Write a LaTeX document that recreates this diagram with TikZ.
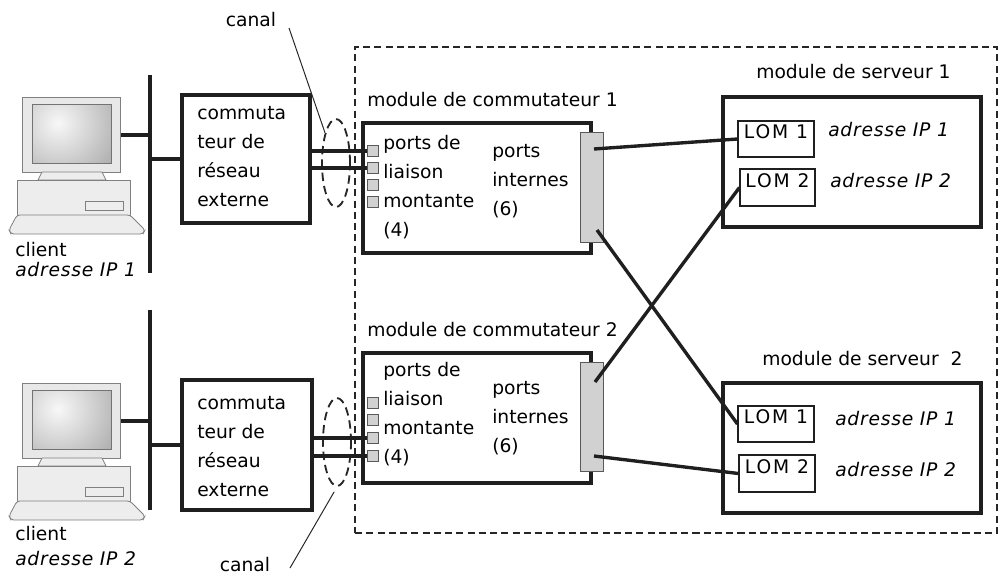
\documentclass[tikz,border=0pt]{standalone}
\usepackage{fontspec}
\setmainfont{DejaVu Sans}
\usetikzlibrary{fit,shapes.geometric}

\tikzset{
  txt/.style={inner sep=0pt, font=\fontsize{13.3}{20.6}\selectfont},
  multi/.style={txt, align=left},
  addr/.style={inner sep=0pt, font=\fontsize{13.3}{16}\selectfont\itshape\addfontfeature{LetterSpace=4}},
  heavybox/.style={draw=black!88, line width=2.2pt, inner sep=0pt},
  lombox/.style={draw=black!88, line width=0.8pt, inner sep=0pt,
    font=\fontsize{13.3}{16}\selectfont\addfontfeature{LetterSpace=10}},
  portsq/.style={draw=black!65, fill=black!18, line width=0.6pt,
    minimum size=0.275cm, inner sep=0pt},
  portbar/.style={draw=black!65, fill=black!18, line width=0.7pt, inner sep=0pt},
  link/.style={line width=2.4pt, draw=black!88},
  bus/.style={line width=2.6pt, draw=black!88},
  leader/.style={line width=0.7pt, draw=black!85},
  chassis/.style={draw=black!85, line width=1.4pt, dash pattern=on 5pt off 3pt, inner sep=0pt},
  canal/.style={draw=black!85, ellipse, line width=1.3pt, dash pattern=on 6pt off 3.5pt,
    minimum width=0.7cm, minimum height=2.2cm, inner sep=0pt},
  pcpart/.style={draw=black!50, fill=black!7, line width=0.6pt},
  monitorbox/.style={draw=black!50, fill=black!9, line width=0.6pt, inner sep=0pt,
    minimum width=2.45cm, minimum height=1.875cm},
  pics/computer/.style={code={
    \node[monitorbox, anchor=north west] (-monitor) at (0,0) {};
    \begin{scope}
      \clip (10,7) rectangle (89,66);
      \shade[inner color=black!3, outer color=black!55] (36,26) circle (120);
    \end{scope}
    \draw[black!55, line width=0.5pt] (10,7) rectangle (89,66);
    % stand
    \draw[pcpart] (20,75) -- (80,75) -- (84,83) -- (16,83) -- cycle;
    % desktop case and drive slot
    \draw[pcpart] (-5,83) rectangle (108,118);
    \draw[pcpart] (63,104) rectangle (101,113);
    % keyboard
    \draw[pcpart, rounded corners=2] (-5,118) -- (108,118) -- (123,133)
      -- (121,137) -- (-11,137) -- (-13,133) -- cycle;
  }}
}

\begin{document}
\begin{tikzpicture}[x=0.025cm, y=-0.025cm]
\useasboundingbox (0,0) rectangle (1004,579);

% ---------- enclosure ----------
\node[chassis, fit={(355,47) (997,533)}] (encl) {};

% ---------- clients ----------
\pic (pc1) at (22,97) {computer};
\pic (pc2) at (22,383) {computer};
\node[txt, anchor=base west] (cl1) at (15,256) {client};
\node[addr, anchor=base west] (cl1ip) at (15,276) {adresse IP 1};
\node[txt, anchor=base west] (cl2) at (15,540) {client};
\node[addr, anchor=base west] (cl2ip) at (15,565) {adresse IP 2};

\coordinate (bus1a) at (150,75);  \coordinate (bus1b) at (150,273);
\coordinate (bus2a) at (150,310); \coordinate (bus2b) at (150,510);
\draw[bus] (bus1a) -- (bus1b);
\draw[bus] (bus2a) -- (bus2b);
\draw[link] (pc1-monitor.east) -- (pc1-monitor.east -| bus1a);
\draw[link] (pc2-monitor.east) -- (pc2-monitor.east -| bus2a);

% ---------- external switches ----------
\node[heavybox, fit={(182,95) (310,223)}] (ext1) {};
\node[multi, anchor=west] (ext1t) at (197,157) {commuta\\teur de\\réseau\\externe};
\node[heavybox, fit={(182,380) (312,510)}] (ext2) {};
\node[multi, anchor=west] (ext2t) at (197,447) {commuta\\teur de\\réseau\\externe};
\draw[link] (ext1.west -| bus1a) -- (ext1.west);
\draw[link] (ext2.west -| bus2a) -- (ext2.west);

% ---------- channels ----------
\node[canal] (ch1) at (336,163) {};
\node[canal] (ch2) at (337,442) {};
\node[txt, anchor=base] (can1) at (251,26) {canal};
\node[txt, anchor=base] (can2) at (245,571) {canal};
\coordinate (lead1) at (289,28);
\coordinate (lead2) at (290,568);
\draw[leader] (lead1) -- (ch1.110);
\draw[leader, shorten >=4pt] (lead2) -- (ch2.south);

% ---------- switch module 1 ----------
\node[heavybox, fit={(363,123) (591,253)}] (sw1) {};
\node[txt, anchor=base west] (sw1t) at (367,106) {module de commutateur 1};
\node[portbar, fit={(580,132) (603,242)}] (bar1) {};
\node[portsq] (p11) at (372.5,151) {};
\node[portsq] (p12) at (372.5,168) {};
\node[portsq] (p13) at (372.5,185) {};
\node[portsq] (p14) at (372.5,202) {};
\node[multi, anchor=west] (up1) at (383,187) {ports de\\liaison\\montante\\(4)};
\node[multi, anchor=west] (in1) at (492,181) {ports\\internes\\(6)};

% ---------- switch module 2 ----------
\node[heavybox, fit={(363,353) (591,483)}] (sw2) {};
\node[txt, anchor=base west] (sw2t) at (367,336) {module de commutateur 2};
\node[portbar, fit={(580,362) (603,471)}] (bar2) {};
\node[portsq] (p21) at (372.5,403) {};
\node[portsq] (p22) at (372.5,420) {};
\node[portsq] (p23) at (372.5,438) {};
\node[portsq] (p24) at (372.5,456) {};
\node[multi, anchor=west] (up2) at (383,414) {ports de\\liaison\\montante\\(4)};
\node[multi, anchor=west] (in2) at (492,418) {ports\\internes\\(6)};

% uplinks through the channels
\draw[link] (ext1.east |- p11) -- (p11.west);
\draw[link] (ext1.east |- p12) -- (p12.west);
\draw[link] (ext2.east |- p23) -- (p23.west);
\draw[link] (ext2.east |- p24) -- (p24.west);

% ---------- server module 1 ----------
\node[heavybox, fit={(723,97) (981,227)}] (srv1) {};
\node[txt, anchor=base west] (srv1t) at (756,78) {module de serveur 1};
\node[lombox, fit={(738,121) (814,157)}] (lom11) {LOM 1};
\node[lombox, fit={(740,169) (815,206)}] (lom12) {LOM 2};
\node[addr, anchor=base west] (ip11) at (828,136) {adresse IP 1};
\node[addr, anchor=base west] (ip12) at (830,187) {adresse IP 2};

% ---------- server module 2 ----------
\node[heavybox, fit={(723,383) (981,513)}] (srv2) {};
\node[txt, anchor=base west] (srv2t) at (762,365) {module de serveur\ \ 2};
\node[lombox, fit={(738,406) (814,442)}] (lom21) {LOM 1};
\node[lombox, fit={(739,455) (815,492)}] (lom22) {LOM 2};
\node[addr, anchor=base west] (ip21) at (835,425) {adresse IP 1};
\node[addr, anchor=base west] (ip22) at (835,476) {adresse IP 2};

% ---------- internal links ----------
\coordinate (b1top) at (594,149);
\coordinate (b1bot) at (597,230);
\coordinate (b2top) at (595,382);
\coordinate (b2bot) at (594,456);
\draw[link] (b1top) -- (lom11.west);
\draw[link] (b1bot) -- (lom21.west);
\draw[link] (b2top) -- (lom12.west);
\draw[link] (b2bot) -- (lom22.west);
\end{tikzpicture}
\end{document}
